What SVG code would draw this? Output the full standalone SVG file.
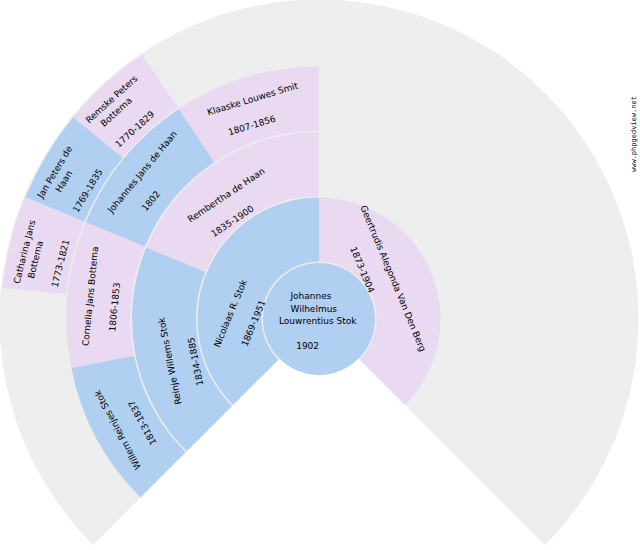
<svg xmlns="http://www.w3.org/2000/svg" width="640" height="550" viewBox="0 0 640 550">
<style>
.m{fill:#b1cff0}
.f{fill:#e9daf1}
.bg{fill:#eeeeee}
.t{font-family:"DejaVu Sans","Verdana",sans-serif;font-size:9px;fill:#000000}
.wm{font-family:"DejaVu Sans Mono","Liberation Mono",monospace;font-size:7px;fill:#000000}
</style>
<rect x="0" y="0" width="640" height="550" fill="#ffffff"/>
<g id="background">
<path class="bg" d="M319 319 L93.08 544.92 A319.5 319.5 0 1 1 544.92 544.92 Z"/>
</g>
<g id="connectors"></g>
<g id="p21">
<path class="f" d="M73.183 117.263 A318 318 0 0 1 142.329 54.593 L177.885 107.807 A254 254 0 0 0 122.655 157.864 Z"/>
<text class="t" transform="translate(87.02 125.64) rotate(-42.1875)"><tspan x="2.86" y="0">Remske Peters</tspan><tspan x="11.44" y="12.6">Bottema</tspan><tspan x="8.58" y="37.8">1770-1829</tspan></text>
</g>
<g id="p20">
<path class="m" d="M25.206 197.307 A318 318 0 0 1 73.183 117.263 L122.655 157.864 A254 254 0 0 0 84.334 221.799 Z"/>
<text class="t" transform="translate(40.88 201.29) rotate(-59.0625)"><tspan x="2.86" y="0">Jan Peters de</tspan><tspan x="17.16" y="12.6">Haan</tspan><tspan x="8.58" y="37.8">1769-1835</tspan></text>
</g>
<g id="p19">
<path class="f" d="M2.531 287.831 A318 318 0 0 1 25.206 197.307 L84.334 221.799 A254 254 0 0 0 66.223 294.104 Z"/>
<text class="t" transform="translate(18.69 287.09) rotate(-75.9375)"><tspan x="2.86" y="0">Catharina Jans</tspan><tspan x="11.44" y="12.6">Bottema</tspan><tspan x="8.58" y="37.8">1773-1821</tspan></text>
</g>
<g id="p11">
<path class="f" d="M178.719 109.054 A252.5 252.5 0 0 1 319 66.5 L319 130.5 A188.5 188.5 0 0 0 214.275 162.268 Z"/>
<text class="t" transform="translate(189.10 121.37) rotate(-16.875)"><tspan x="20.02" y="0">Klaaske Louwes Smit</tspan><tspan x="34.32" y="25.2">1807-1856</tspan></text>
</g>
<g id="p10">
<path class="m" d="M85.72 222.373 A252.5 252.5 0 0 1 178.719 109.054 L214.275 162.268 A188.5 188.5 0 0 0 144.849 246.864 Z"/>
<text class="t" transform="translate(101.20 226.82) rotate(-50.625)"><tspan x="17.16" y="0">Johannes Jans de Haan</tspan><tspan x="40.04" y="25.2">1802</tspan></text>
</g>
<g id="p9">
<path class="f" d="M71.352 368.26 A252.5 252.5 0 0 1 85.72 222.373 L144.849 246.864 A188.5 188.5 0 0 0 134.122 355.775 Z"/>
<text class="t" transform="translate(86.70 363.36) rotate(-84.375)"><tspan x="17.16" y="0">Cornelia Jans Bottema</tspan><tspan x="34.32" y="25.2">1806-1853</tspan></text>
</g>
<g id="p8">
<path class="m" d="M140.456 497.544 A252.5 252.5 0 0 1 71.352 368.26 L134.122 355.775 A188.5 188.5 0 0 0 185.711 452.289 Z"/>
<text class="t" transform="translate(150.69 485.14) rotate(-118.125)"><tspan x="20.02" y="0">Willem Reinjes Stok</tspan><tspan x="34.32" y="25.2">1813-1837</tspan></text>
</g>
<g id="p5">
<path class="f" d="M146.234 247.438 A187 187 0 0 1 319 132 L319 196 A123 123 0 0 0 205.363 271.93 Z"/>
<text class="t" transform="translate(168.91 237.05) rotate(-33.75)"><tspan x="25.74" y="0">Rembertha de Haan</tspan><tspan x="37.18" y="25.2">1835-1900</tspan></text>
</g>
<g id="p4">
<path class="m" d="M186.771 451.229 A187 187 0 0 1 146.234 247.438 L205.363 271.93 A123 123 0 0 0 232.026 405.974 Z"/>
<text class="t" transform="translate(185.88 426.31) rotate(-101.25)"><tspan x="22.88" y="0">Reinje Willems Stok</tspan><tspan x="37.18" y="25.2">1834-1885</tspan></text>
</g>
<g id="p3">
<path class="f" d="M319 197.5 A121.5 121.5 0 0 1 404.914 404.914 L359.659 359.659 A57.5 57.5 0 0 0 319 261.5 Z"/>
<text class="t" transform="translate(359.13 204.32) rotate(67.5)"><tspan x="2.86" y="0">Geertrudis Alegonda Van Den Berg</tspan><tspan x="37.18" y="25.2">1873-1904</tspan></text>
</g>
<g id="p2">
<path class="m" d="M233.086 404.914 A121.5 121.5 0 0 1 319 197.5 L319 261.5 A57.5 57.5 0 0 0 278.341 359.659 Z"/>
<text class="t" transform="translate(209.53 371.71) rotate(-67.5)"><tspan x="25.74" y="0">Nicolaas R. Stok</tspan><tspan x="37.18" y="25.2">1869-1951</tspan></text>
</g>
<g id="p1">
<circle class="m" cx="319" cy="319" r="56"/>
<text class="t" transform="translate(279 299)"><tspan x="11.44" y="0">Johannes</tspan><tspan x="11.44" y="12.6">Wilhelmus</tspan><tspan x="0" y="25.2">Louwrentius Stok</tspan><tspan x="17.16" y="50.4">1902</tspan></text>
</g>
<text class="wm" transform="translate(636 172) rotate(-90)">www.phpgedview.net</text>
</svg>
